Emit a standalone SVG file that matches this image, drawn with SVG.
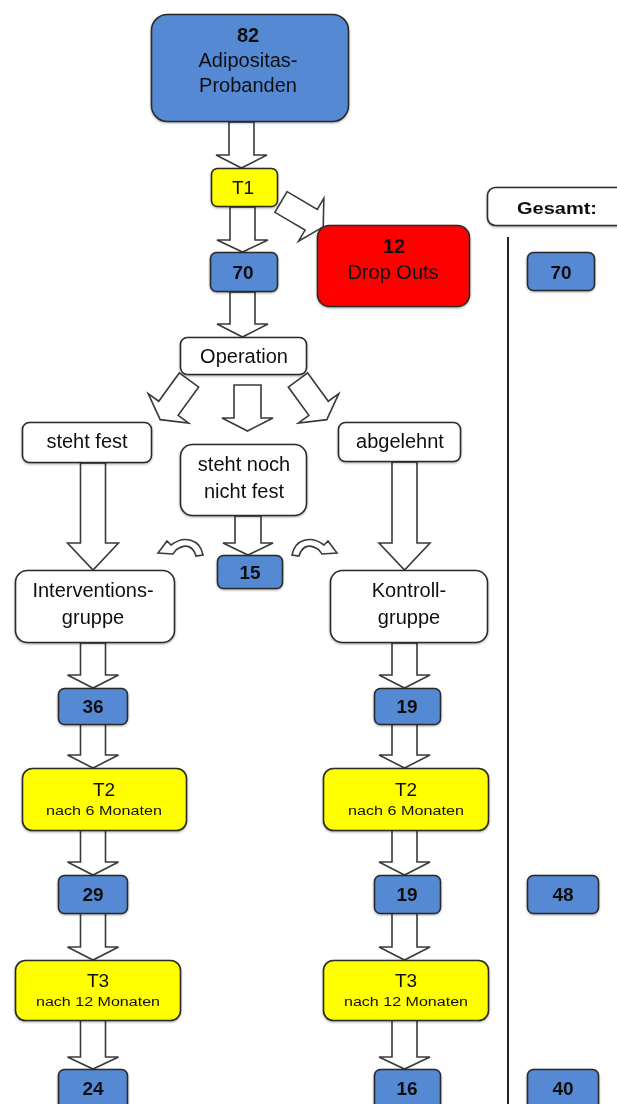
<svg xmlns="http://www.w3.org/2000/svg" width="617" height="1104" viewBox="0 0 617 1104">
<defs>
<style>
.box{stroke:#2b2b2b;stroke-width:1.6}
.blue{fill:#5589d4}
.yel{fill:#ffff00}
.red{fill:#ff0000}
.wht{fill:#ffffff}
.arr{fill:#ffffff;stroke:#3a3a3a;stroke-width:1.6;stroke-linejoin:miter}
text{font-family:"Liberation Sans",Arial,sans-serif;fill:#111;text-anchor:middle}
.num{font-weight:bold;font-size:19px}
.lbl{font-size:20px}
.tt{font-size:19px}
.big{font-size:20px}
.small{font-size:12px}
</style>
<filter id="sh" x="-10%" y="-10%" width="120%" height="130%">
<feDropShadow dx="0" dy="1" stdDeviation="1" flood-color="#000" flood-opacity="0.35"/>
</filter>
<polygon id="diag" points="0,-12 35,-12 35,-25 49,0 35,25 35,12 0,12"/>
<path id="curl" d="M 203 555 C 200 539 184 535 171 545 L 167 541 L 158 553 L 173 554 L 176 550 C 186 543 193 546 196 556 Z"/>
</defs>
<rect width="617" height="1104" fill="#ffffff"/>

<g id="connectors">
<polygon class="arr" points="229,122 254,122 254,155 267,155 241.5,168 216,155 229,155"/>
<polygon class="arr" points="230,207 255,207 255,240 268,240 242.5,252 217,240 230,240"/>
<use href="#diag" class="arr" transform="translate(281,202) rotate(30.5)"/>
<polygon class="arr" points="230,292 255,292 255,324 268,324 242.5,337 217,324 230,324"/>
<use href="#diag" class="arr" transform="translate(189,380) rotate(126)"/>
<use href="#diag" class="arr" transform="translate(298,380) rotate(54)"/>
<polygon class="arr" points="234,385 261,385 261,418 273,418 247.5,431 222,418 234,418"/>
<polygon class="arr" points="80.5,463 105.5,463 105.5,543 118.5,543 93,570 67.5,543 80.5,543"/>
<polygon class="arr" points="392,462 417,462 417,543 430,543 404.5,570 379,543 392,543"/>
<polygon class="arr" points="235,516 261,516 261,543 273,543 248,555 223,543 235,543"/>
<use href="#curl" class="arr"/>
<use href="#curl" class="arr" transform="translate(495,0) scale(-1,1)"/>
<polygon class="arr" points="80.5,643 105.5,643 105.5,675 118.5,675 93,688 67.5,675 80.5,675"/>
<polygon class="arr" points="392,643 417,643 417,675 430,675 404.5,688 379,675 392,675"/>
<polygon class="arr" points="80.5,724 105.5,724 105.5,755 118.5,755 93,768 67.5,755 80.5,755"/>
<polygon class="arr" points="392,724 417,724 417,755 430,755 404.5,768 379,755 392,755"/>
<polygon class="arr" points="80.5,830 105.5,830 105.5,862 118.5,862 93,875 67.5,862 80.5,862"/>
<polygon class="arr" points="392,830 417,830 417,862 430,862 404.5,875 379,862 392,862"/>
<polygon class="arr" points="80.5,913 105.5,913 105.5,947 118.5,947 93,960 67.5,947 80.5,947"/>
<polygon class="arr" points="392,913 417,913 417,947 430,947 404.5,960 379,947 392,947"/>
<polygon class="arr" points="80.5,1020 105.5,1020 105.5,1057 118.5,1057 93,1069 67.5,1057 80.5,1057"/>
<polygon class="arr" points="392,1020 417,1020 417,1057 430,1057 404.5,1069 379,1057 392,1057"/>
<line x1="508" y1="237" x2="508" y2="1104" stroke="#222" stroke-width="2"/>
</g>

<g id="n-start" filter="url(#sh)"><rect class="box blue" x="151.5" y="14.5" width="197" height="107" rx="16"/>
<text class="num" x="248" y="42" style="font-size:20px">82</text>
<text class="big" x="248" y="67">Adipositas-</text>
<text class="big" x="248" y="92">Probanden</text></g>

<g id="n-t1" filter="url(#sh)"><rect class="box yel" x="211.5" y="168.5" width="66" height="38" rx="6"/>
<text class="tt" x="243" y="194">T1</text></g>

<g id="n-70" filter="url(#sh)"><rect class="box blue" x="210.5" y="252.5" width="67" height="39" rx="6"/>
<text class="num" x="243" y="279">70</text></g>

<g id="n-dropouts" filter="url(#sh)"><rect class="box red" x="317.5" y="225.5" width="152" height="81" rx="12"/>
<text class="num" x="394" y="253" style="font-size:20px">12</text>
<text class="big" x="393" y="279">Drop Outs</text></g>

<g id="n-gesamt" filter="url(#sh)"><rect class="box wht" x="487.5" y="187.5" width="150" height="38" rx="8"/>
<text class="num" x="557" y="214" style="font-size:16px" textLength="80" lengthAdjust="spacingAndGlyphs">Gesamt:</text></g>

<g id="n-g70" filter="url(#sh)"><rect class="box blue" x="527.5" y="252.5" width="67" height="38" rx="6"/>
<text class="num" x="561" y="279">70</text></g>

<g id="n-operation" filter="url(#sh)"><rect class="box wht" x="180.5" y="337.5" width="126" height="37" rx="7"/>
<text class="lbl" x="244" y="363">Operation</text></g>

<g id="n-stehtfest" filter="url(#sh)"><rect class="box wht" x="22.5" y="422.5" width="129" height="40" rx="7"/>
<text class="lbl" x="87" y="448">steht fest</text></g>

<g id="n-stehtnoch" filter="url(#sh)"><rect class="box wht" x="180.5" y="444.5" width="126" height="71" rx="12"/>
<text class="lbl" x="244" y="471">steht noch</text>
<text class="lbl" x="244" y="498">nicht fest</text></g>

<g id="n-abgelehnt" filter="url(#sh)"><rect class="box wht" x="338.5" y="422.5" width="122" height="39" rx="7"/>
<text class="lbl" x="400" y="448">abgelehnt</text></g>

<g id="n-15" filter="url(#sh)"><rect class="box blue" x="217.5" y="555.5" width="65" height="33" rx="6"/>
<text class="num" x="250" y="579">15</text></g>

<g id="n-intervention" filter="url(#sh)"><rect class="box wht" x="15.5" y="570.5" width="159" height="72" rx="12"/>
<text class="lbl" x="93" y="597">Interventions-</text>
<text class="lbl" x="93" y="624">gruppe</text></g>

<g id="n-kontroll" filter="url(#sh)"><rect class="box wht" x="330.5" y="570.5" width="157" height="72" rx="12"/>
<text class="lbl" x="409" y="597">Kontroll-</text>
<text class="lbl" x="409" y="624">gruppe</text></g>

<g id="n-36" filter="url(#sh)"><rect class="box blue" x="58.5" y="688.5" width="69" height="36" rx="6"/>
<text class="num" x="93" y="713">36</text></g>

<g id="n-19a" filter="url(#sh)"><rect class="box blue" x="374.5" y="688.5" width="66" height="36" rx="6"/>
<text class="num" x="407" y="713">19</text></g>

<g id="n-t2a" filter="url(#sh)"><rect class="box yel" x="22.5" y="768.5" width="164" height="62" rx="10"/>
<text class="tt" x="104" y="796">T2</text>
<text class="small" x="104" y="815" textLength="116" lengthAdjust="spacingAndGlyphs">nach 6 Monaten</text></g>

<g id="n-t2b" filter="url(#sh)"><rect class="box yel" x="323.5" y="768.5" width="165" height="62" rx="10"/>
<text class="tt" x="406" y="796">T2</text>
<text class="small" x="406" y="815" textLength="116" lengthAdjust="spacingAndGlyphs">nach 6 Monaten</text></g>

<g id="n-29" filter="url(#sh)"><rect class="box blue" x="58.5" y="875.5" width="69" height="38" rx="6"/>
<text class="num" x="93" y="901">29</text></g>

<g id="n-19b" filter="url(#sh)"><rect class="box blue" x="374.5" y="875.5" width="66" height="38" rx="6"/>
<text class="num" x="407" y="901">19</text></g>

<g id="n-48" filter="url(#sh)"><rect class="box blue" x="527.5" y="875.5" width="71" height="38" rx="6"/>
<text class="num" x="563" y="901">48</text></g>

<g id="n-t3a" filter="url(#sh)"><rect class="box yel" x="15.5" y="960.5" width="165" height="60" rx="10"/>
<text class="tt" x="98" y="987">T3</text>
<text class="small" x="98" y="1006" textLength="124" lengthAdjust="spacingAndGlyphs">nach 12 Monaten</text></g>

<g id="n-t3b" filter="url(#sh)"><rect class="box yel" x="323.5" y="960.5" width="165" height="60" rx="10"/>
<text class="tt" x="406" y="987">T3</text>
<text class="small" x="406" y="1006" textLength="124" lengthAdjust="spacingAndGlyphs">nach 12 Monaten</text></g>

<g id="n-24" filter="url(#sh)"><rect class="box blue" x="58.5" y="1069.5" width="69" height="45" rx="6"/>
<text class="num" x="93" y="1095">24</text></g>

<g id="n-16" filter="url(#sh)"><rect class="box blue" x="374.5" y="1069.5" width="66" height="45" rx="6"/>
<text class="num" x="407" y="1095">16</text></g>

<g id="n-40" filter="url(#sh)"><rect class="box blue" x="527.5" y="1069.5" width="71" height="45" rx="6"/>
<text class="num" x="563" y="1095">40</text></g>
</svg>
